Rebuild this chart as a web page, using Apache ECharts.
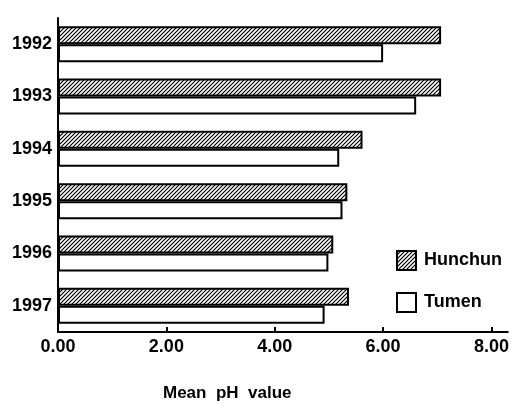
<!DOCTYPE html>
<html>
<head>
<meta charset="utf-8">
<script src="https://cdn.jsdelivr.net/npm/echarts@6/dist/echarts.min.js"></script>
<style>
  html, body { margin: 0; padding: 0; background: #fff; }
  #chart { width: 512px; height: 404px; }
</style>
</head>
<body>
<div id="chart"></div>
<script>
// years, top to bottom
var years = ['1992', '1993', '1994', '1995', '1996', '1997'];
// mean pH values
var hunchun = [7.07, 7.07, 5.62, 5.34, 5.08, 5.37];
var tumen = [6.0, 6.61, 5.19, 5.25, 4.99, 4.92];
var xTicks = [0, 2, 4, 6, 8];

// hatch fill for Hunchun
function makeHatch() {
    var c = document.createElement('canvas');
    c.width = 4; c.height = 4;
    var g = c.getContext('2d');
    g.fillStyle = '#fff';
    g.fillRect(0, 0, 4, 4);
    g.strokeStyle = '#000';
    g.lineWidth = 1.2;
    g.beginPath();
    g.moveTo(-1, 5); g.lineTo(5, -1);
    g.moveTo(-1, 1); g.lineTo(1, -1);
    g.moveTo(3, 5); g.lineTo(5, 3);
    g.stroke();
    return c;
}

var font = 'Liberation Sans, Arial, sans-serif';
var chart = echarts.init(document.getElementById('chart'));

var option = {
    animation: false,
    backgroundColor: '#fff',
    grid: { left: 58, top: 18, width: 452, height: 314, containLabel: false },
    legend: {
        orient: 'vertical',
        left: 396, top: 250, padding: 0,
        icon: 'rect',
        itemWidth: 19, itemHeight: 19, itemGap: 21,
        data: ['Hunchun', 'Tumen'],
        textStyle: { fontFamily: font, fontSize: 18, fontWeight: 'bold', color: '#000', padding: [0, 0, 0, 3] }
    },
    xAxis: {
        type: 'value',
        min: 0, max: 8.3, interval: 2,
        splitLine: { show: false },
        axisLine: { show: true, lineStyle: { color: '#000', width: 2 } },
        axisTick: { show: true, inside: true, length: 5, customValues: xTicks, lineStyle: { color: '#000', width: 2 } },
        axisLabel: {
            customValues: xTicks,
            margin: 6,
            fontFamily: font, fontSize: 18, fontWeight: 'bold', color: '#000',
            formatter: function (v) { return v.toFixed(2); }
        }
    },
    yAxis: {
        type: 'category',
        data: years,
        inverse: true,
        axisLine: { show: true, lineStyle: { color: '#000', width: 2 } },
        axisTick: { show: false },
        axisLabel: { margin: 6, fontFamily: font, fontSize: 18, fontWeight: 'bold', color: '#000' }
    },
    series: [
        {
            name: 'Hunchun', type: 'bar', data: hunchun,
            barWidth: 18, barGap: '0%',
            itemStyle: { color: { image: makeHatch(), repetition: 'repeat' }, borderColor: '#000', borderWidth: 2 }
        },
        {
            name: 'Tumen', type: 'bar', data: tumen,
            barWidth: 18,
            itemStyle: { color: '#fff', borderColor: '#000', borderWidth: 2 }
        }
    ],
    graphic: [{
        type: 'text', left: 163, top: 385,
        style: { text: 'Mean  pH  value', font: 'bold 17px ' + font, fill: '#000' }
    }]
};
chart.setOption(option);
</script>
</body>
</html>
